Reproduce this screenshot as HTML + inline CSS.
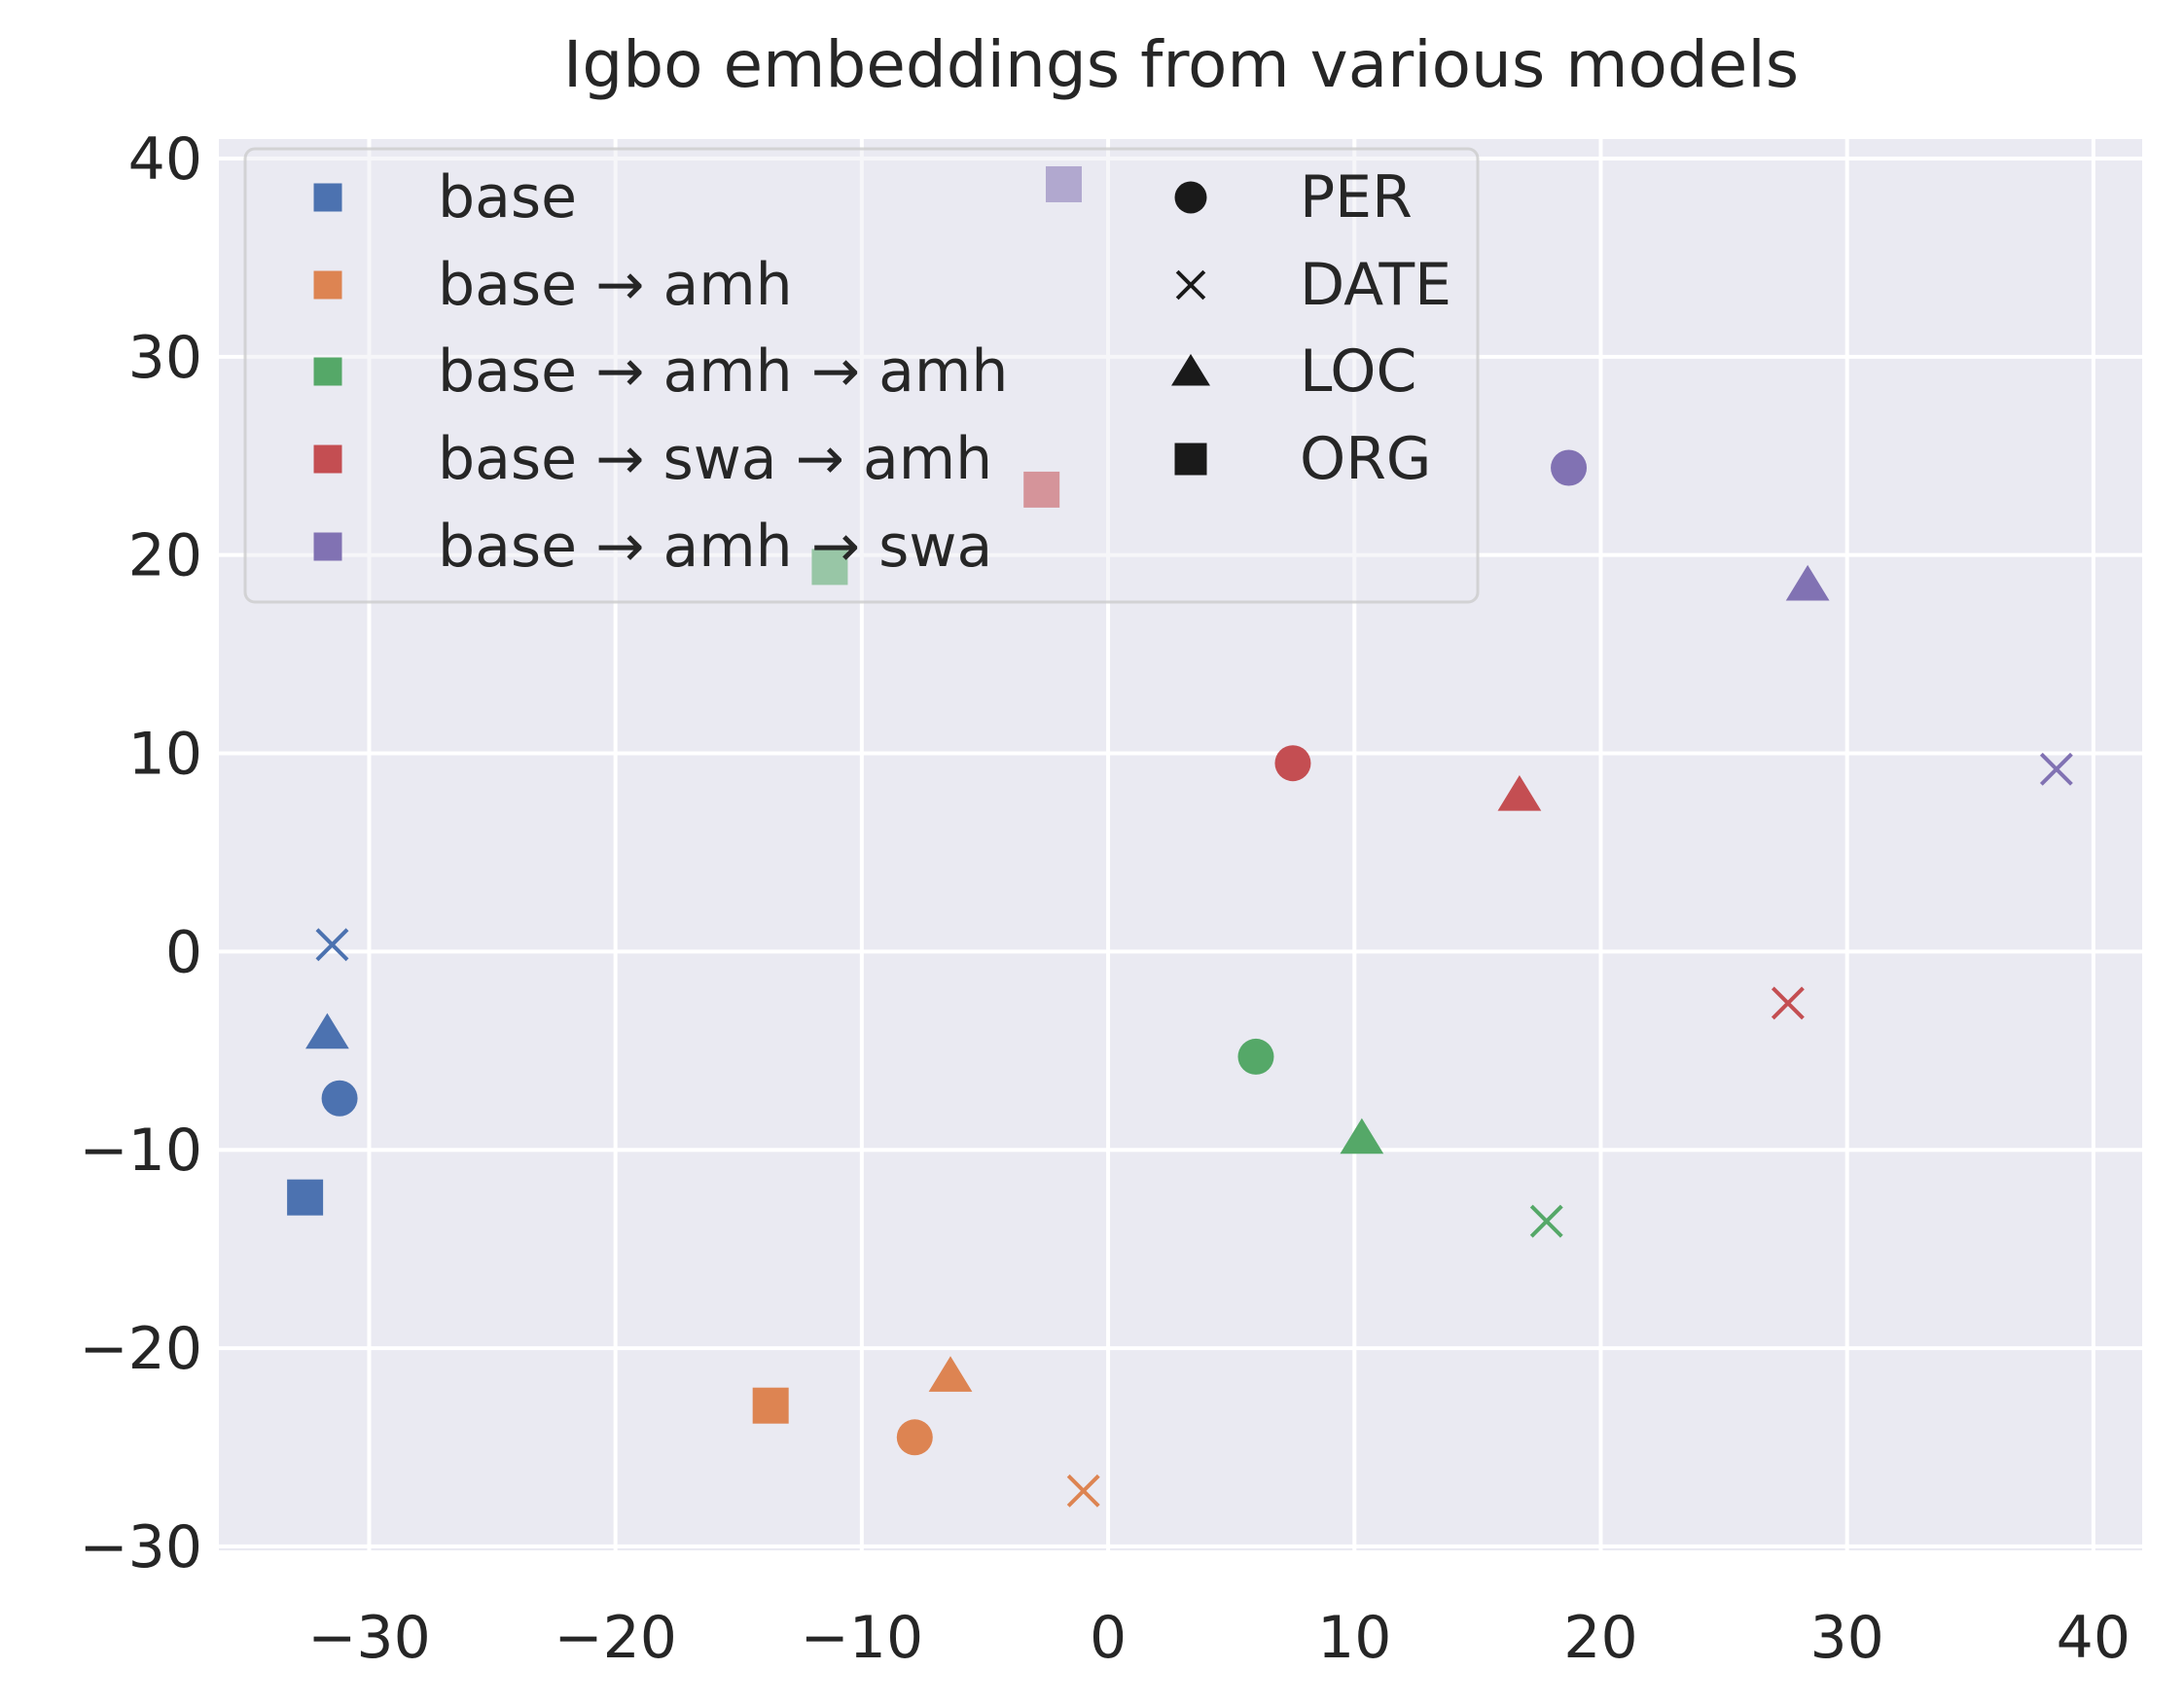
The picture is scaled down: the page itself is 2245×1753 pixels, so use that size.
<!DOCTYPE html>
<html><head><meta charset="utf-8"><style>
html,body{margin:0;padding:0;background:#fff}
svg{display:block}
text{font-family:"DejaVu Sans","Liberation Sans",sans-serif;fill:#262626}
</style></head><body>
<svg id="chart" width="2245" height="1753" viewBox="0 0 2245 1753" xmlns="http://www.w3.org/2000/svg">
<g id="root"></g>
</svg>
<script>
const models = ["base","base → amh","base → amh → amh","base → swa → amh","base → amh → swa"];
const colors = ["#4c72b0","#dd8452","#55a868","#c44e52","#8172b3"];
const types = ["PER","DATE","LOC","ORG"];
// values per model, order PER, DATE, LOC, ORG
const xBase = [-31.2,-31.5,-31.7,-32.6];
const yBase = [-7.4,0.35,-4.1,-12.4];
const xAmh = [-7.85,-1.0,-6.4,-13.7];
const yAmh = [-24.5,-27.2,-21.4,-22.9];
const xAmhAmh = [6.0,17.8,10.3,-11.3];
const yAmhAmh = [-5.3,-13.6,-9.4,19.4];
const xSwaAmh = [7.5,27.6,16.7,-2.7];
const ySwaAmh = [9.5,-2.6,7.9,23.3];
const xAmhSwa = [18.7,38.5,28.4,-1.8];
const yAmhSwa = [24.4,9.2,18.5,38.7];
const xTicks = [-30,-20,-10,0,10,20,30,40];
const yTicks = [-30,-20,-10,0,10,20,30,40];

const xs=[xBase,xAmh,xAmhAmh,xSwaAmh,xAmhSwa], ys=[yBase,yAmh,yAmhAmh,ySwaAmh,yAmhSwa];
const L=225,R=2202,T=143,B=1594;
const x0=-36.1,x1=41.98,y0=-30.2,y1=40.98;
const X=v=>L+(v-x0)/(x1-x0)*(R-L);
const Y=v=>B-(v-y0)/(y1-y0)*(B-T);
const NS="http://www.w3.org/2000/svg";
const root=document.getElementById('root');
function mk(tag,attrs,parent){const e=document.createElementNS(NS,tag);for(const k in attrs)e.setAttribute(k,attrs[k]);(parent||root).appendChild(e);return e;}

let bg=mk('rect',{x:L,y:T,width:R-L,height:B-T,fill:'#eaeaf2'});



xTicks.forEach(t=>{
  let g=mk('line',{x1:X(t),x2:X(t),y1:T,y2:B,stroke:'#fff','stroke-width':4});
  
  
  let tx=mk('text',{x:X(t),y:1704,'text-anchor':'middle','font-size':60});
  tx.textContent=(t<0?'\u2212':'')+Math.abs(t);
  
  
});
yTicks.forEach(t=>{
  let g=mk('line',{x1:L,x2:R,y1:Y(t),y2:Y(t),stroke:'#fff','stroke-width':4});
  
  
  let tx=mk('text',{x:208,y:Y(t)+21,'text-anchor':'end','font-size':60});
  tx.textContent=(t<0?'\u2212':'')+Math.abs(t);
  
  
});

function marker(type,cx,cy,color,s,parent){
  let e;
  if(type==='PER') e=mk('circle',{cx:cx,cy:cy,r:s/2,fill:color},parent);
  else if(type==='ORG') e=mk('rect',{x:cx-s/2,y:cy-s/2,width:s,height:s,fill:color},parent);
  else if(type==='LOC'){const h=s*0.55;e=mk('polygon',{points:`${cx},${cy-h} ${cx+h*1.1},${cy+h*0.8} ${cx-h*1.1},${cy+h*0.8}`,fill:color},parent);}
  else {const h=s*0.42;e=mk('path',{d:`M${cx-h},${cy-h}L${cx+h},${cy+h}M${cx-h},${cy+h}L${cx+h},${cy-h}`,stroke:color,'stroke-width':4,fill:'none'},parent);}
  return e;
}
models.forEach((m,i)=>{
  types.forEach((t,j)=>{
    const e=marker(t,X(xs[i][j]),Y(ys[i][j]),colors[i],37);
    
    
  });
});

// legend
let lg=mk('rect',{x:252,y:153,width:1267,height:466,rx:10,fill:'rgba(234,234,242,0.45)',stroke:'rgba(204,204,204,0.8)','stroke-width':3});


const rowY=[203,293,382,472,562];
models.forEach((m,i)=>{
  const e=marker('ORG',337,rowY[i],colors[i],29);
  
  
  const t=mk('text',{x:450,y:rowY[i]+20,'font-size':60});
  t.textContent=m;
  
  
});
types.forEach((ty,j)=>{
  const e=marker(ty,1224,rowY[j],'#1a1a1a',33);
  
  
  const t=mk('text',{x:1336,y:rowY[j]+20,'font-size':60});
  t.textContent=ty;
  
  
});
let title=mk('text',{x:1214,y:89,'text-anchor':'middle','font-size':66});
title.textContent='Igbo embeddings from various models';


</script>
</body></html>
